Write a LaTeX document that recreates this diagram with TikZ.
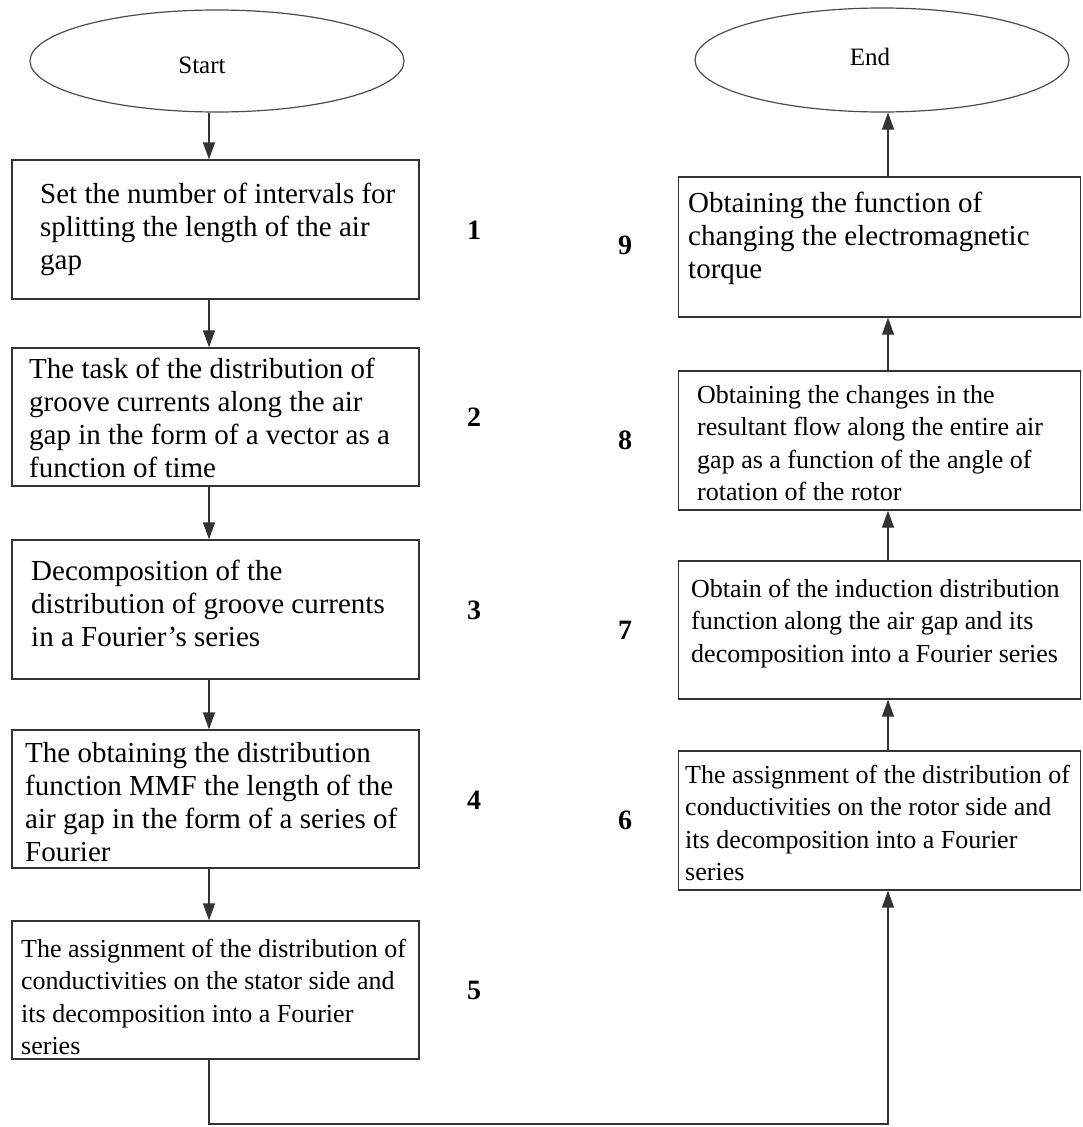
\documentclass[tikz,border=0pt]{standalone}
\usepackage{fontspec}
\setmainfont{Liberation Serif}
\usetikzlibrary{arrows.meta,shapes.geometric}
\begin{document}
\begin{tikzpicture}[x=1pt,y=-1pt,
  box/.style={draw=black!80,line width=1.3pt,rectangle,inner sep=0pt},
  oval/.style={draw=black!70,line width=1.2pt,ellipse,inner sep=0pt},
  bigtxt/.style={anchor=base west,inner sep=0pt,text width=400pt,align=left,font=\fontsize{29}{33}\selectfont,execute at begin node={\spaceskip=0.25em\relax}},
  smalltxt/.style={anchor=base west,inner sep=0pt,text width=400pt,align=left,font=\fontsize{26}{32.5}\selectfont,execute at begin node={\spaceskip=0.25em\relax}},
  num/.style={inner sep=0pt,font=\fontsize{28}{30}\selectfont\bfseries},
  arr/.style={draw=black!80,line width=1.3pt,-{Triangle[length=17pt,width=12pt]}},
  ln/.style={draw=black!80,line width=1.3pt}]
\useasboundingbox (0,0) rectangle (1082,1127);
% ellipses
\node[oval,minimum width=374pt,minimum height=102pt] (start) at (217,61) {};
\node[inner sep=0pt,font=\fontsize{25}{27}\selectfont] (starttxt) at (202,65) {Start};
\node[oval,minimum width=374pt,minimum height=104pt] (end) at (882,60) {};
\node[inner sep=0pt,font=\fontsize{25}{27}\selectfont] (endtxt) at (870,57) {End};
% left boxes
\node[box,minimum width=407pt,minimum height=139pt] (b1) at (215.5,229.5) {};
\node[box,minimum width=407pt,minimum height=138pt] (b2) at (215.5,417) {};
\node[box,minimum width=407pt,minimum height=139pt] (b3) at (215.5,609.5) {};
\node[box,minimum width=407pt,minimum height=138pt] (b4) at (215.5,799) {};
\node[box,minimum width=407pt,minimum height=138pt] (b5) at (215.5,990) {};
% right boxes
\node[box,minimum width=402pt,minimum height=140pt] (b9) at (879.5,247) {};
\node[box,minimum width=402pt,minimum height=139pt] (b8) at (879.5,440.5) {};
\node[box,minimum width=402pt,minimum height=138pt] (b7) at (879.5,630) {};
\node[box,minimum width=402pt,minimum height=139pt] (b6) at (879.5,820.5) {};
% texts
\node[bigtxt] (t1) at (40,203) {Set the number of intervals for\\splitting the length of the air\\gap};
\node[bigtxt] (t2) at (29,378) {The task of the distribution of\\groove currents along the air\\gap in the form of a vector as a\\function of time};
\node[bigtxt] (t3) at (31,580) {Decomposition of the\\distribution of groove currents\\in a Fourier's series};
\node[bigtxt] (t4) at (25,762) {The obtaining the distribution\\function MMF the length of the\\air gap in the form of a series of\\Fourier};
\node[smalltxt] (t5) at (21,957) {The assignment of the distribution of\\conductivities on the stator side and\\its decomposition into a Fourier\\series};
\node[bigtxt] (t9) at (688,212) {Obtaining the function of\\changing the electromagnetic\\torque};
\node[smalltxt] (t8) at (697,403) {Obtaining the changes in the\\resultant flow along the entire air\\gap as a function of the angle of\\rotation of the rotor};
\node[smalltxt] (t7) at (691,597) {Obtain of the induction distribution\\function along the air gap and its\\decomposition into a Fourier series};
\node[smalltxt] (t6) at (685,783) {The assignment of the distribution of\\conductivities on the rotor side and\\its decomposition into a Fourier\\series};
% numbers
\node[num] (n1) at (474,230) {1};
\node[num] (n2) at (474,417) {2};
\node[num] (n3) at (474,610) {3};
\node[num] (n4) at (474,800) {4};
\node[num] (n5) at (474,990) {5};
\node[num] (n9) at (625,245) {9};
\node[num] (n8) at (625,440) {8};
\node[num] (n7) at (625,630) {7};
\node[num] (n6) at (625,820) {6};
% connector guides
\coordinate (lx) at (209,0);
\coordinate (rx) at (888,0);
\coordinate (cbot) at (0,1124);
% arrows
\draw[arr] (start.south -| lx) -- (b1.north -| lx);
\draw[arr] (b1.south -| lx) -- (b2.north -| lx);
\draw[arr] (b2.south -| lx) -- (b3.north -| lx);
\draw[arr] (b3.south -| lx) -- (b4.north -| lx);
\draw[arr] (b4.south -| lx) -- (b5.north -| lx);
\draw[arr] (b5.south -| lx) -- (lx |- cbot) -- (rx |- cbot) -- (b6.south -| rx);
\draw[arr] (b6.north -| rx) -- (b7.south -| rx);
\draw[arr] (b7.north -| rx) -- (b8.south -| rx);
\draw[arr] (b8.north -| rx) -- (b9.south -| rx);
\draw[arr] (b9.north -| rx) -- (end.south -| rx);
\end{tikzpicture}
\end{document}
